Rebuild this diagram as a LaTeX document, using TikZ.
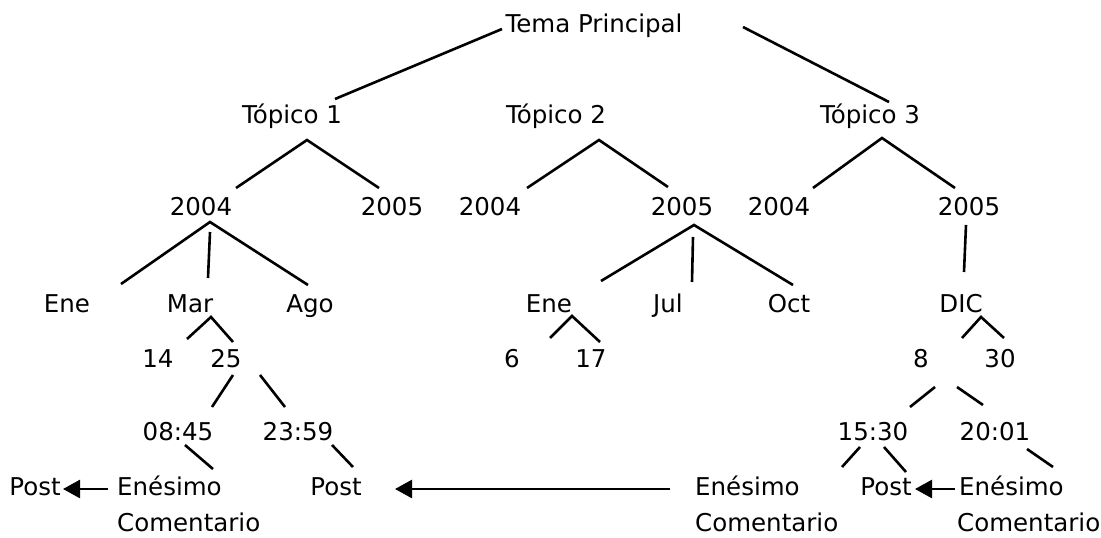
\documentclass[tikz,border=0pt]{standalone}
\usepackage{fontspec}
\setmainfont{DejaVu Sans}
\usetikzlibrary{arrows.meta}
\begin{document}
\begin{tikzpicture}[x=1pt,y=-1pt,
  lbl/.style={inner sep=0pt,anchor=base,font=\fontsize{24.5}{29}\selectfont},
  lblw/.style={lbl,anchor=base west},
  edge/.style={line width=2.6pt,line cap=butt,line join=miter},
  arr/.style={edge,-{Triangle[length=17pt,width=18pt]}}]
\fill[white] (0,0) rectangle (1101,538);
\useasboundingbox (0,0) rectangle (1101,538);
% text nodes
\node[lbl] (tema) at (594,32) {Tema Principal};
\node[lbl] (t1) at (292,123) {Tópico 1};
\node[lbl] (t2) at (556,123) {Tópico 2};
\node[lbl] (t3) at (870,123) {Tópico 3};
\node[lbl] (y1a) at (201,215) {2004};
\node[lbl] (y1b) at (392,215) {2005};
\node[lbl] (y2a) at (490,215) {2004};
\node[lbl] (y2b) at (682,215) {2005};
\node[lbl] (y3a) at (779,215) {2004};
\node[lbl] (y3b) at (969,215) {2005};
\node[lbl] (ene1) at (67,312) {Ene};
\node[lbl] (mar) at (190,312) {Mar};
\node[lbl] (ago) at (310,312) {Ago};
\node[lbl] (ene2) at (549,312) {Ene};
\node[lbl] (jul) at (668,312) {Jul};
\node[lbl] (oct) at (789,312) {Oct};
\node[lbl] (dic) at (961,312) {DIC};
\node[lbl] (d14) at (158,367) {14};
\node[lbl] (d25) at (226,367) {25};
\node[lbl] (d6) at (512,367) {6};
\node[lbl] (d17) at (591,367) {17};
\node[lbl] (d8) at (921,367) {8};
\node[lbl] (d30) at (1000,367) {30};
\node[lbl] (h1) at (178,440) {08:45};
\node[lbl] (h2) at (298,440) {23:59};
\node[lbl] (h3) at (873,440) {15:30};
\node[lbl] (h4) at (995,440) {20:01};
\node[lbl] (postA) at (35,495) {Post};
\node[lblw] (enA) at (117,495) {Enésimo};
\node[lblw] (coA) at (117,531) {Comentario};
\node[lbl] (postB) at (336,495) {Post};
\node[lblw] (enB) at (695,495) {Enésimo};
\node[lblw] (coB) at (695,531) {Comentario};
\node[lbl] (postC) at (886,495) {Post};
\node[lblw] (enC) at (959,495) {Enésimo};
\node[lblw] (coC) at (957,531) {Comentario};
% connector end points
\coordinate (temaL) at (502,29);  \coordinate (t1up) at (335,99);
\coordinate (temaR) at (743,27);  \coordinate (t3up) at (889,102);
\coordinate (t1x) at (307,140); \coordinate (y1aU) at (236,188); \coordinate (y1bU) at (379,188);
\coordinate (t2x) at (599,140); \coordinate (y2aU) at (527,188); \coordinate (y2bU) at (668,187);
\coordinate (t3x) at (882,138); \coordinate (y3aU) at (813,188); \coordinate (y3bU) at (955,188);
\coordinate (y1ax) at (210,222); \coordinate (ene1U) at (121,284); \coordinate (agoU) at (308,285);
\coordinate (y1av) at (210,232); \coordinate (marU) at (208,278);
\coordinate (marx) at (211,317); \coordinate (d14U) at (187,339); \coordinate (d25U) at (233,342);
\coordinate (d25a) at (233,375); \coordinate (h1U) at (212,407);
\coordinate (d25b) at (260,375); \coordinate (h2U) at (285,407);
\coordinate (h1d) at (185,445); \coordinate (enAU) at (213,469);
\coordinate (h2d) at (332,445); \coordinate (postBU) at (353,467);
\coordinate (y2bx) at (694,225); \coordinate (ene2U) at (601,281); \coordinate (octU) at (793,285);
\coordinate (y2bv) at (693,237); \coordinate (julU) at (692,282);
\coordinate (ene2x) at (572,316); \coordinate (d6U) at (550,338); \coordinate (d17U) at (600,342);
\coordinate (y3bx) at (966,225); \coordinate (dicU) at (964,272);
\coordinate (dicx) at (981,317); \coordinate (d8U) at (962,338); \coordinate (d30U) at (1004,338);
\coordinate (d8a) at (935,387); \coordinate (h3U) at (910,407);
\coordinate (d8b) at (957,387); \coordinate (h4U) at (983,405);
\coordinate (h3a) at (860,447); \coordinate (enBU) at (842,467);
\coordinate (h3b) at (884,447); \coordinate (postCU) at (906,472);
\coordinate (h4d) at (1027,449); \coordinate (enCU) at (1053,467);
\coordinate (enAL) at (108,489); \coordinate (postAR) at (63,489);
\coordinate (enBL) at (670,489); \coordinate (postBR) at (395,489);
\coordinate (enCL) at (955,489); \coordinate (postCR) at (915,489);
% connectors
\draw[edge] (temaL) -- (t1up);
\draw[edge] (temaR) -- (t3up);
\draw[edge] (y1aU) -- (t1x) -- (y1bU);
\draw[edge] (y2aU) -- (t2x) -- (y2bU);
\draw[edge] (y3aU) -- (t3x) -- (y3bU);
\draw[edge] (ene1U) -- (y1ax) -- (agoU);
\draw[edge] (y1av) -- (marU);
\draw[edge] (d14U) -- (marx) -- (d25U);
\draw[edge] (d25a) -- (h1U);
\draw[edge] (d25b) -- (h2U);
\draw[edge] (h1d) -- (enAU);
\draw[edge] (h2d) -- (postBU);
\draw[edge] (ene2U) -- (y2bx) -- (octU);
\draw[edge] (y2bv) -- (julU);
\draw[edge] (d6U) -- (ene2x) -- (d17U);
\draw[edge] (y3bx) -- (dicU);
\draw[edge] (d8U) -- (dicx) -- (d30U);
\draw[edge] (d8a) -- (h3U);
\draw[edge] (d8b) -- (h4U);
\draw[edge] (h3a) -- (enBU);
\draw[edge] (h3b) -- (postCU);
\draw[edge] (h4d) -- (enCU);
\draw[arr] (enAL) -- (postAR);
\draw[arr] (enBL) -- (postBR);
\draw[arr] (enCL) -- (postCR);
\end{tikzpicture}
\end{document}
